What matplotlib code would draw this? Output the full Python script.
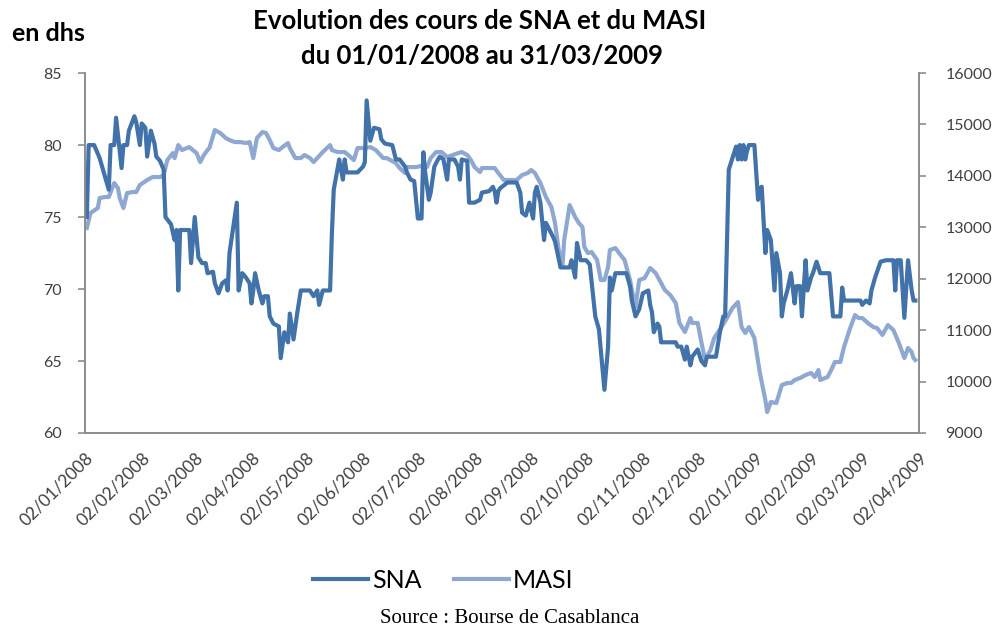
import numpy as np
import pandas as pd
import matplotlib
matplotlib.use("Agg")
import matplotlib.pyplot as plt
import matplotlib.dates as mdates

# jours depuis le 02/01/2008
START = "2008-01-02"
END = "2009-04-02"
SNA_DAY = [1, 2, 5, 8, 13, 14, 16, 17, 20, 21, 23, 24, 27, 28, 30, 31, 33, 34, 36, 38,
           39, 41, 43, 44, 47, 49, 50, 51, 52, 57, 58, 60, 62, 64, 66, 67, 70, 71, 73, 75,
           77, 78, 79, 83, 84, 86, 88, 90, 91, 92, 93, 95, 97, 98, 100, 101, 103, 106, 107, 109,
           111, 112, 114, 116, 118, 123, 125, 127, 128, 130, 134, 135, 136, 139, 141, 142, 143, 149, 152, 153,
           154, 156, 158, 161, 162, 164, 168, 170, 172, 175, 176, 178, 180, 182, 184, 185, 186, 188, 189, 191,
           193, 194, 196, 198, 199, 202, 204, 205, 206, 209, 210, 213, 216, 217, 221, 223, 224, 225, 226, 227,
           229, 231, 236, 238, 239, 241, 243, 245, 246, 247, 249, 251, 252, 254, 256, 257, 260, 265, 266, 268,
           269, 271, 274, 276, 279, 281, 284, 286, 287, 288, 290, 296, 298, 299, 301, 303, 305, 308, 309, 310,
           311, 313, 314, 315, 323, 324, 326, 328, 329, 331, 332, 335, 337, 339, 340, 345, 347, 349, 350, 352,
           354, 356, 357, 358, 359, 360, 361, 362, 363, 366, 368, 369, 370, 372, 373, 375, 377, 378, 380, 381,
           382, 384, 386, 388, 389, 391, 392, 394, 395, 397, 398, 400, 402, 407, 409, 413, 414, 415, 424, 425,
           427, 429, 430, 432, 435, 438, 442, 443, 444, 446, 448, 450, 452, 453, 454]
SNA = [75.0, 80.0, 80.0, 79.1, 76.9, 80.0, 80.0, 81.9, 78.4, 80.0, 80.0, 81.0, 82.0, 81.6, 80.0, 81.5, 81.2, 79.2, 81.0, 80.1,
       79.2, 78.9, 78.3, 75.0, 74.5, 73.4, 74.1, 69.9, 74.1, 74.1, 71.8, 75.0, 72.2, 71.8, 71.8, 71.1, 71.2, 70.4, 69.7, 70.4,
       70.6, 69.9, 72.5, 76.0, 69.9, 71.1, 70.8, 70.4, 69.0, 69.9, 71.1, 69.9, 69.0, 69.5, 69.5, 68.1, 67.6, 67.4, 65.2, 67.0,
       66.3, 68.3, 66.5, 68.3, 69.9, 69.9, 69.5, 69.9, 68.9, 69.9, 69.9, 73.9, 76.9, 79.0, 77.6, 79.0, 78.1, 78.1, 78.5, 78.8,
       83.1, 80.3, 81.2, 81.1, 80.4, 80.1, 80.0, 79.0, 79.0, 78.5, 78.1, 77.6, 77.5, 74.9, 74.9, 79.5, 78.1, 76.2, 76.7, 78.5,
       79.0, 79.2, 79.0, 77.6, 79.0, 79.0, 78.5, 77.6, 79.0, 78.9, 76.0, 76.0, 76.2, 76.7, 76.8, 77.1, 76.8, 76.0, 76.8, 77.0,
       77.2, 77.4, 77.4, 76.7, 75.3, 75.1, 76.0, 74.9, 76.7, 77.1, 76.0, 73.4, 74.6, 74.1, 73.6, 73.3, 71.5, 71.5, 72.0, 70.8,
       73.2, 72.0, 72.0, 71.7, 68.1, 67.2, 63.0, 66.0, 70.8, 69.9, 71.1, 71.1, 70.2, 69.2, 68.1, 68.6, 69.7, 69.9, 68.9, 68.4,
       67.0, 67.6, 67.4, 66.3, 66.3, 66.0, 66.0, 65.1, 66.0, 64.7, 65.3, 65.8, 65.0, 64.7, 65.3, 65.3, 66.9, 68.1, 68.1, 78.3,
       79.1, 79.9, 79.0, 80.0, 79.0, 80.0, 79.0, 79.6, 80.0, 80.0, 76.2, 77.0, 77.1, 72.5, 74.1, 73.4, 69.9, 72.5, 71.1, 68.1,
       69.0, 69.9, 71.1, 69.0, 70.2, 70.2, 68.1, 72.0, 69.9, 70.8, 71.1, 71.9, 71.1, 71.1, 68.1, 68.1, 70.1, 69.2, 69.2, 68.9,
       69.2, 69.0, 69.9, 70.8, 71.9, 72.0, 72.0, 69.9, 72.0, 72.0, 68.0, 72.0, 69.9, 69.2, 69.2]

MASI_DAY = [1, 3, 7, 8, 11, 13, 16, 18, 19, 21, 23, 26, 28, 30, 34, 37, 41, 43, 45, 48,
            49, 51, 53, 57, 59, 61, 63, 65, 67, 68, 71, 74, 77, 79, 82, 85, 88, 90, 92, 94,
            97, 99, 101, 103, 106, 108, 111, 112, 115, 118, 120, 123, 125, 127, 130, 134, 135, 138, 142, 144,
            147, 149, 153, 156, 159, 163, 165, 167, 170, 172, 175, 176, 181, 186, 187, 189, 192, 195, 198, 201,
            204, 206, 209, 211, 213, 216, 217, 220, 224, 226, 229, 233, 236, 239, 242, 244, 246, 249, 252, 255,
            257, 259, 261, 262, 264, 265, 268, 270, 272, 273, 275, 277, 280, 282, 284, 286, 287, 290, 292, 295,
            298, 299, 301, 303, 306, 309, 312, 315, 317, 320, 323, 325, 328, 331, 332, 335, 337, 339, 342, 344,
            348, 351, 354, 357, 359, 361, 363, 366, 369, 372, 373, 375, 378, 381, 384, 386, 388, 391, 394, 397,
            399, 401, 402, 406, 408, 410, 413, 415, 418, 421, 423, 425, 428, 431, 433, 436, 439, 442, 445, 448,
            450, 452, 453, 454]
MASI = [12986, 13278, 13375, 13570, 13590, 13590, 13861, 13764, 13570, 13375, 13667, 13686, 13686, 13823, 13920, 13978, 13978, 14017, 14308, 14444,
        14347, 14600, 14503, 14561, 14503, 14444, 14270, 14406, 14503, 14542, 14892, 14833, 14736, 14697, 14658, 14658, 14639, 14658, 14347, 14736,
        14853, 14833, 14697, 14542, 14503, 14561, 14639, 14542, 14347, 14347, 14406, 14347, 14270, 14347, 14464, 14600, 14503, 14464, 14464, 14406,
        14308, 14542, 14542, 14561, 14503, 14347, 14347, 14308, 14250, 14153, 14056, 14172, 14172, 14211, 14172, 14347, 14464, 14464, 14367, 14406,
        14444, 14464, 14406, 14308, 14172, 14075, 14153, 14153, 14153, 14056, 13920, 13920, 13920, 14017, 14056, 14114, 14056, 13861, 13590, 13395,
        13084, 12559, 12228, 12753, 13200, 13433, 13200, 13084, 13006, 12617, 12500, 12520, 12364, 11975, 11975, 12228, 12559, 12597, 12500, 12364,
        11975, 11781, 11450, 11975, 12014, 12209, 12111, 11917, 11781, 11684, 11528, 11140, 10964, 11236, 11140, 11140, 10770, 10420, 10614, 10847,
        11061, 11236, 11431, 11547, 11061, 10944, 11061, 10847, 10167, 9641, 9408, 9603, 9583, 9933, 9972, 9972, 10030, 10070, 10128, 10167,
        10089, 10225, 10030, 10089, 10225, 10381, 10381, 10673, 11003, 11294, 11236, 11236, 11140, 11061, 11042, 10906, 11100, 11003, 10750, 10458,
        10653, 10575, 10458, 10420]

SNA_COLOR = "#4272AA"
MASI_COLOR = "#8EA8D2"
AXIS_GRAY = "#8C8C8C"
TICK_TEXT = "#404040"

plt.rcParams["font.family"] = ["Lato", "DejaVu Sans"]

base = pd.Timestamp(START)
sna_dates = [base + pd.Timedelta(days=d) for d in SNA_DAY]
masi_dates = [base + pd.Timedelta(days=d) for d in MASI_DAY]

fig = plt.figure(figsize=(10, 6.3), dpi=100)
ax = fig.add_axes([0.085, 0.3127, 0.834, 0.5713])
ax2 = ax.twinx()

l2, = ax2.plot(masi_dates, MASI, color=MASI_COLOR, lw=3.0, solid_joinstyle="round", label="MASI")
l1, = ax.plot(sna_dates, SNA, color=SNA_COLOR, lw=3.0, solid_joinstyle="round", label="SNA")
ax.set_zorder(ax2.get_zorder() + 1)
ax.patch.set_visible(False)

ax.set_ylim(60, 85)
ax.set_yticks(np.arange(60, 86, 5))
ax2.set_ylim(9000, 16000)
ax2.set_yticks(np.arange(9000, 16001, 1000))
ax.set_xlim(base, pd.Timestamp(END))

ax.xaxis.set_major_locator(mdates.MonthLocator(bymonthday=2))
ax.xaxis.set_major_formatter(mdates.DateFormatter("%d/%m/%Y"))
for lab in ax.get_xticklabels():
    lab.set_rotation(45)
    lab.set_ha("right")
    lab.set_rotation_mode("anchor")

for a in (ax, ax2):
    for s in a.spines.values():
        s.set_color(AXIS_GRAY)
        s.set_linewidth(1.2)
    a.spines["top"].set_visible(False)
    a.tick_params(colors=AXIS_GRAY, labelcolor=TICK_TEXT, labelsize=11.5, length=5, width=1.2)
ax.tick_params(axis="y", pad=12)
ax2.tick_params(axis="y", pad=14)
ax.tick_params(axis="x", length=0, pad=12, labelsize=12.5)

fig.text(0.48, 0.966, "Evolution des cours de SNA et du MASI", ha="center", va="center",
         fontsize=18.5, fontweight="bold")
fig.text(0.482, 0.911, "du 01/01/2008 au 31/03/2009", ha="center", va="center",
         fontsize=18.5, fontweight="bold")
fig.text(0.012, 0.947, "en dhs", ha="left", va="center", fontsize=18, fontweight="bold")

fig.legend([l1, l2], ["SNA", "MASI"], loc="center", bbox_to_anchor=(0.443, 0.079),
           ncol=2, frameon=False, fontsize=18, handlelength=2.2, columnspacing=1.3,
           handletextpad=0.15)
fig.text(0.51, 0.018, "Source : Bourse de Casablanca", ha="center", va="center",
         fontsize=15, family=["Liberation Serif", "DejaVu Serif"])

fig.savefig("out.png", dpi=100)
